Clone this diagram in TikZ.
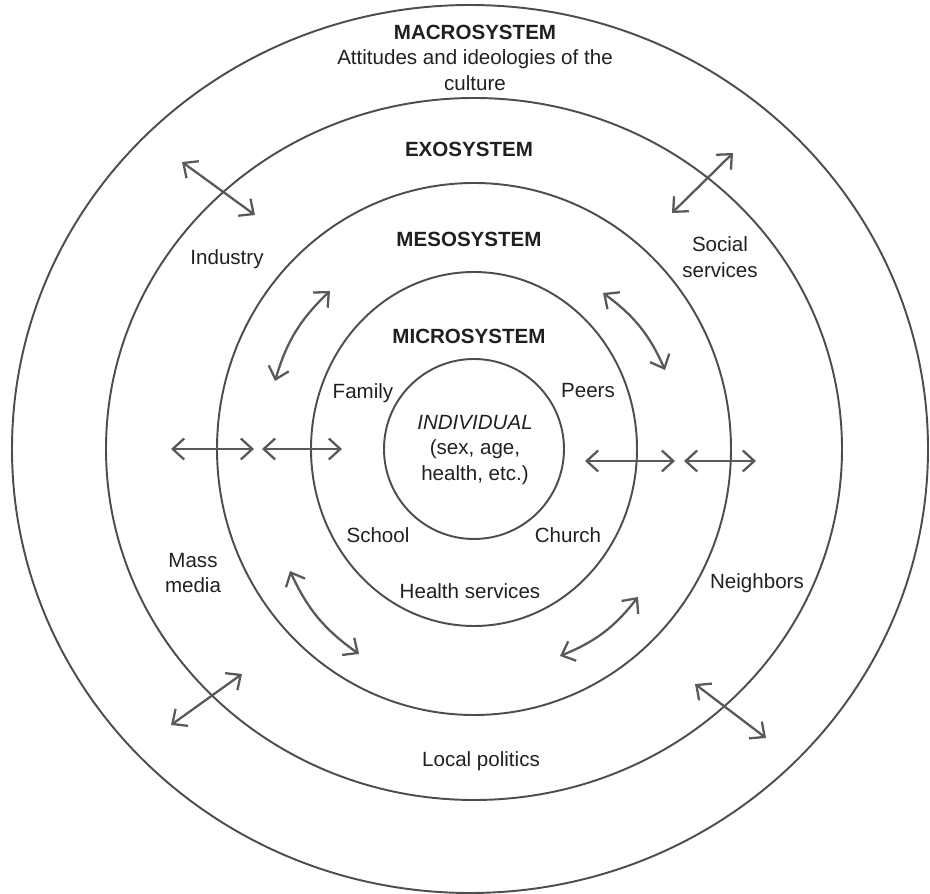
\documentclass[tikz,border=0pt]{standalone}
\usepackage{fontspec}
\setmainfont{Liberation Sans}
\usetikzlibrary{arrows.meta}
\usetikzlibrary{positioning}
\definecolor{ringgray}{HTML}{4D4D4D}
\definecolor{arrowgray}{HTML}{595959}
\definecolor{inkblack}{HTML}{231F20}

\begin{document}
\begin{tikzpicture}[x=0.2mm, y=0.2mm,
ring/.style={draw=ringgray, line width=1.1pt},
link/.style={draw=arrowgray, line width=1.3pt, {Straight Barb[length=2.3mm,width=4.2mm]}-{Straight Barb[length=2.3mm,width=4.2mm]}},
sysname/.style={font=\fontsize{11.7}{14.6}\selectfont\bfseries, text=inkblack, inner sep=1pt},
txt/.style={font=\fontsize{11.7}{14.6}\selectfont, text=inkblack, inner sep=1pt, align=center},
]
\useasboundingbox (0,0) rectangle (930,894);

% rings
\draw[ring] (470,445) ellipse (458 and 444);
\draw[ring] (474,445) ellipse (368 and 351);
\draw[ring] (474,445) ellipse (257 and 266);
\draw[ring] (474,445) ellipse (163 and 177);
\draw[ring] (474,445) circle (90);

% system names
\node[sysname] (macro) at (475,862) {MACROSYSTEM};
\node[txt, font=\fontsize{11.7}{15}\selectfont] (culture) [below=3.5pt of macro] {Attitudes and ideologies of the\\culture};
\node[sysname] (exo) at (469,745) {EXOSYSTEM};
\node[sysname] (meso) at (469,655) {MESOSYSTEM};
\node[sysname] (micro) at (469,558) {MICROSYSTEM};

% settings
\node[txt] (industry) at (227,635) {Industry};
\node[txt] (social) at (720,637) {Social\\services};
\node[txt] (family) at (363,501) {Family};
\node[txt] (peers) at (588,503) {Peers};
\node[txt] (indiv) at (475,444) {\textit{INDIVIDUAL}\\(sex, age,\\health, etc.)};
\node[txt] (school) at (378,359) {School};
\node[txt] (church) at (568,359) {Church};
\node[txt] (health) at (470,303) {Health services};
\node[txt] (media) at (193,321) {Mass\\media};
\node[txt] (neigh) at (757,311) {Neighbors};
\node[txt] (politics) at (481,133) {Local politics};

% arrow ends
\coordinate (tl1) at (182,732);
\coordinate (tl2) at (255,679);
\coordinate (tr1) at (733,741);
\coordinate (tr2) at (672,681);
\coordinate (bl1) at (242,220);
\coordinate (bl2) at (171,169);
\coordinate (br1) at (695,210);
\coordinate (br2) at (766,156);
\coordinate (hl1) at (171,445);
\coordinate (hl2) at (254,445);
\coordinate (hl3) at (262,445);
\coordinate (hl4) at (342,445);
\coordinate (hr1) at (585,433);
\coordinate (hr2) at (675,433);
\coordinate (hr3) at (684,433);
\coordinate (hr4) at (756,433);
\coordinate (ul1) at (330,603);
\coordinate (ul2) at (275,513);
\coordinate (ur1) at (603,601);
\coordinate (ur2) at (665,524);
\coordinate (ll1) at (290,323);
\coordinate (ll2) at (359,240);
\coordinate (lr1) at (638,297);
\coordinate (lr2) at (560,238);

\draw[link] (tl1) -- (tl2);
\draw[link] (tr1) -- (tr2);
\draw[link] (bl1) -- (bl2);
\draw[link] (br1) -- (br2);
\draw[link] (hl1) -- (hl2);
\draw[link] (hl3) -- (hl4);
\draw[link] (hr1) -- (hr2);
\draw[link] (hr3) -- (hr4);
\draw[link] (ul1) to[bend right=15] (ul2);
\draw[link] (ur1) to[bend left=15] (ur2);
\draw[link] (ll1) to[bend right=15] (ll2);
\draw[link] (lr1) to[bend left=15] (lr2);
\end{tikzpicture}
\end{document}
